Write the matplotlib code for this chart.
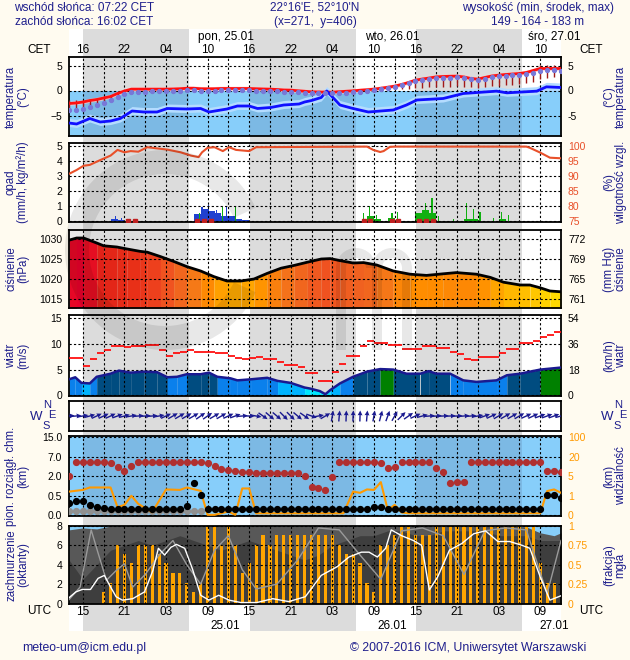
import numpy as np
import matplotlib
matplotlib.use('Agg')
from matplotlib import pyplot as plt
from matplotlib.colors import LinearSegmentedColormap
from matplotlib.patches import Wedge, Rectangle

plt.rcParams['font.family'] = ['Liberation Sans', 'DejaVu Sans']

W, H = 630, 660
BG = '#fffbf0'
NIGHT = '#dcdcdc'
TXT = '#1e1e8c'
T0, T1 = 13, 84                      # hours since 24.01 00 UTC

nights = [(15.03, 30.37), (39.05, 54.35), (63.07, 78.33)]
days = [(13, 15.03), (30.37, 39.05), (54.35, 63.07), (78.33, 84)]

hours = np.arange(13, 85)            # hourly time grid

# ---- temperature (deg C), hourly 13..84
temp = [-2.6, -2.5, -2.3, -2.0, -1.8, -1.5, -1.2, -0.6, -0.1, 0.27, 0.27, 0.27,
        0.27, 0.27, 0.27, 0.3, 0.35, 0.45, 0.45, 0.35, 0.33, 0.35, 0.4, 0.4,
        0.4, 0.4, 0.4, 0.35, 0.3, 0.27, 0.2, 0.1, 0.07, -0.05, -0.15, -0.27,
        -0.3, -0.33, -0.33, -0.25, -0.15, -0.07, 0.05, 0.15, 0.27, 0.45, 0.65, 0.87,
        1.2, 1.6, 2.07, 2.3, 2.5, 2.73, 2.8, 2.85, 2.87, 2.7, 2.4, 2.27,
        2.6, 2.9, 3.07, 3.2, 3.3, 3.4, 3.6, 4.0, 4.4, 4.4, 4.4, 4.4]
tbar_lo = [-3.9, -3.9, -3.7, -3.4, -3.0, -2.5, -2.0, -1.4, -0.7, -0.3, -0.3, -0.3,
           -0.2, -0.2, -0.2, -0.1, -0.1, 0.0, 0.0, -0.2, -0.2, -0.1, 0.0, 0.0,
           0.0, 0.0, 0.0, -0.1, -0.1, -0.2, -0.2, -0.3, -0.3, -0.4, -0.5, -0.6,
           -0.6, -0.6, -0.5, -0.6, -0.6, -0.4, -0.3, -0.2, 0.0, 0.1, 0.2, 0.3,
           0.3, 0.4, 0.5, 0.6, 0.7, 0.7, 0.8, 0.8, 0.9, 0.8, 0.7, 0.6,
           0.7, 0.9, 1.0, 1.1, 1.2, 1.3, 1.5, 1.7, 2.3, 2.6, 2.7, 2.7]
tbar_hi = [-1.9, -1.9, -1.8, -1.6, -1.4, -1.1, -0.8, -0.3, 0.2, 0.4, 0.4, 0.4,
           0.4, 0.4, 0.4, 0.4, 0.4, 0.5, 0.5, 0.4, 0.4, 0.4, 0.5, 0.5,
           0.5, 0.5, 0.5, 0.4, 0.4, 0.4, 0.3, 0.2, 0.2, 0.1, 0.0, -0.1,
           -0.2, -0.2, -0.2, -0.1, 0.0, 0.0, 0.1, 0.2, 0.3, 0.5, 0.7, 0.9,
           1.2, 1.6, 2.1, 2.3, 2.5, 2.7, 2.8, 2.9, 2.9, 2.7, 2.4, 2.3,
           2.6, 2.9, 3.1, 3.2, 3.3, 3.4, 3.6, 4.0, 5.1, 5.2, 5.2, 5.1]
tdots = [-3.8, -3.8, -3.6, -3.3, -2.9, -2.4, -1.9, -1.3, -0.6, -0.2, -0.2, -0.2,
         -0.1, -0.1, -0.1, 0.0, 0.0, 0.1, 0.1, -0.1, -0.1, 0.0, 0.1, 0.1,
         0.1, 0.1, 0.1, 0.0, 0.0, -0.1, -0.1, -0.2, -0.2, -0.3, -0.4, -0.5,
         -0.5, -0.5, -0.4, -0.5, -0.5, -0.3, -0.2, 0.0, 0.2, 0.4, 0.6, 0.8,
         1.1, 1.5, 1.9, 2.2, 2.4, 2.6, 2.6, 2.6, 2.7, 2.5, 2.3, 2.2,
         2.4, 2.7, 2.9, 3.0, 3.1, 3.2, 3.3, 3.5, 4.0, 4.2, 4.1, 4.0]
t_dew = [13, 14.1, 16, 17.5, 19, 20.4, 22.1, 23.8, 25.7, 27.2, 30, 32, 33.2, 35.8,
         37.3, 39, 40.2, 42.1, 44, 46.2, 47, 48, 49.4, 50.2, 52.1, 54, 56.2, 59.8,
         61.7, 63.2, 67, 69.9, 74.7, 76.2, 80.5, 81.9, 84]
dew = [-6.5, -6.7, -5.6, -6.3, -6.1, -5.6, -4.1, -4.3, -4.3, -3.6, -3.7, -3.6, -4.3, -3.7,
       -3.1, -3.1, -3.6, -3.4, -2.9, -2.7, -2.3, -2.0, -1.4, -0.1, -2.9, -3.6, -4.3, -3.9,
       -2.9, -1.9, -1.6, -0.6, -0.13, -0.47, -0.13, 0.73, 0.6]

# ---- precipitation (mm/h) and relative humidity (%)
t_rh = [13, 14.1, 15.1, 16, 17.5, 19, 20, 21, 21.9, 23, 24.3, 25.7, 27.2, 29.1, 30.6,
        31.7, 32.2, 33, 34, 35.2, 36.1, 37.1, 39, 40, 47.8, 56, 56.9, 57.9, 58.4,
        59.3, 60, 79, 79.5, 81, 82.4, 84]
rh = [90.7, 92, 93.4, 93.7, 95.3, 96.8, 98.7, 97.9, 98.3, 98.1, 99.6, 99.2, 98.8, 97.9, 96.8,
      96.3, 97.9, 99.4, 99.6, 98.3, 99.6, 98.7, 98.3, 99.6, 99.7, 99.8, 98.7, 98, 98.3,
      99.7, 99.8, 99.8, 99.4, 97.8, 96.1, 95.9]
pb_t = [19.5, 20.5, 31.5, 32.5, 33.5, 34.5, 35.5, 36.5, 37.5, 38.5]
pb_v = [0.1, 0.05, 0.45, 0.8, 0.65, 0.55, 0.35, 0.3, 0.1, 0.05]
pbs_t = [19.7, 20.6, 32.2, 33.1, 34.3, 35.7]
pbs_v = [0.3, 0.2, 0.9, 1.05, 0.75, 1.0]
pg_t = [31.5, 32.5, 33.5, 34.5, 35.5, 36.5, 37.5, 56.5, 57.5, 59.5, 63.5, 64.5, 65.5,
        70.5, 71.5, 75.5]
pg_v = [0.1, 0.15, 0.2, 0.25, 0.15, 0.2, 0.1, 0.3, 0.15, 0.2, 0.5, 0.75, 0.5,
        0.15, 0.15, 0.1]
pgs_t = [31.8, 35.2, 37.0, 55.5, 56.4, 57.4, 59.6, 60.4, 64.5, 65.4, 66.3, 68.5,
         70.4, 71.4, 72.3, 74.3, 75.4, 76.4]
pgs_v = [0.5, 0.95, 1.0, 0.5, 1.0, 0.4, 0.5, 0.6, 1.2, 1.5, 0.3, 0.1,
         1.2, 0.8, 0.6, 0.2, 0.6, 0.4]
pr_sq = [21.5, 22.5, 31.5, 32.5, 33.5, 55.5, 56.4, 59.6, 60.5, 63.5, 64.5, 65.5]

# ---- pressure (hPa)
t_p = [13, 14.1, 15.1, 17, 18, 19.9, 21.4, 23.3, 24.3, 26.2, 28.1, 30, 32, 33.9, 35.8,
       37.8, 39.7, 41.6, 43.6, 45.5, 47.4, 49.4, 50.7, 52.1, 54, 55.5, 57.4, 59.8, 62.2,
       64.6, 67, 68.9, 71.8, 73.8, 75.7, 78.1, 79.5, 81, 82.4, 84]
pres = [1029.7, 1030.25, 1030.25, 1029, 1028.3, 1028, 1027.5, 1026.9, 1026.7, 1025.6,
        1024.4, 1023.1, 1022, 1020.6, 1019.5, 1019.5, 1020, 1021.4, 1022.7, 1023.4,
        1024.2, 1025, 1025.1, 1024.6, 1024, 1024.1, 1023.5, 1022, 1021.2, 1020.9,
        1021.3, 1021.6, 1021.2, 1020.4, 1019.2, 1018.5, 1018.5, 1017.8, 1017, 1016.8]

# ---- wind (m/s)
t_ws = [13, 13.9, 14.8, 16, 17, 19, 20.2, 21.9, 23.8, 25.7, 27.2, 28.6, 30, 32, 33.2,
        34.4, 36.3, 37.3, 39.2, 41.6, 43.1, 45, 47, 47.8, 49.2, 50, 50.7, 52.1, 54, 56,
        57.9, 59.8, 61.7, 63.7, 64.9, 66, 68, 69.9, 71.8, 74.7, 76.2, 78.1, 81, 84]
ws = [3.1, 3.5, 2.4, 2.3, 3.6, 4.2, 4.8, 4.4, 4.6, 4.5, 3.5, 3.6, 4.1, 4.1, 4.4,
      3.6, 3.3, 2.9, 3.1, 3.4, 2.8, 2.4, 1.5, 1.3, 0.8, 0.2, 1.0, 2.3, 3.6, 4.6,
      5.1, 5.0, 4.2, 4.2, 4.7, 4.2, 4.2, 2.9, 2.6, 2.9, 3.9, 4.2, 5.0, 5.4]
# gusts, one value per hour interval [h, h+1], h = 13..83
gust = [7.3, 7.3, 5.7, 7.1, 8.2, 8.8, 9.6, 9.6, 9.5, 9.7, 9.7, 9.8, 9.8, 8.8, 7.6,
        8.2, 8.5, 8.8, 8.5, 8.5, 8.5, 8.2, 8.2, 7.7, 7.3, 7.0, 7.3, 7.5, 7.0, 7.0,
        6.5, 5.8, 5.8, 5.5, 4.4, 4.4, 2.8, 2.8, 4.6, 6.0, 7.7, 7.7, 9.6, 10.6, 10.1,
        10.1, 9.8, 9.8, 9.1, 9.1, 9.1, 9.6, 9.6, 9.3, 9.3, 8.5, 8.0, 7.0, 6.85, 7.4,
        7.4, 7.4, 8.2, 9.1, 9.1, 10.1, 10.1, 10.6, 11.3, 11.7, 12.3]
# arrow direction (deg, 0 = towards east), hourly 13..84
wdir = [5, 5, 10, 15, 25, 25, 25, 20, 15, 10, 5, 5, 5, 10, 25, 30, 30, 30, 30, 35,
        35, 30, 30, 25, 20, 5, 0, -10, -35, -40, -40, -45, -45, -40, -35, -20, 10, 30,
        80, 85, 88, 88, 88, 85, 80, 75, 70, 60, 45, 35, 25, 15, 5, 5, 3, 3,
        3, 5, 5, 10, 20, 25, 30, 30, 30, 30, 25, 25, 20, 20, 20, 15]

# ---- cloud extent (km), cloud base (km), visibility (km)
ctop = [2.1, 5.75, 5.75, 5.75, 5.75, 5.75, 5.3, 4.5, 3.35, 4.65, 5.75, 5.75, 5.75,
        5.75, 5.75, 5.75, 5.75, 5.75, 5.75, 5.6, 5.3, 4.7, 3.95, 3.6, 3.35, 3.2, 3.05,
        2.77, 2.77, 2.77, 2.77, 2.77, 2.77, 2.77, 2.2, 1.2, 1.1, 0.95, 1.97, 5.75, 5.75,
        5.75, 5.75, 5.75, 5.75, 5.3, 4.05, 4.5, 5.75, 5.75, 5.75, 5.75, 5.75, 4.05, 3.2,
        1.46, 1.56, 1.56, 5.75, 5.75, 5.75, 5.75, 5.75, 5.75, 5.75, 5.75, 5.75, 5.75,
        5.75, 3.35, 3.35, 3.2]
cbase = [0.31, 0.36, 0.37, 0.26, 0.2, 0.18, 0.15, 0.15, 0.15, 0.15, 0.15, 0.15, 0.15,
         0.15, 0.15, 0.15, 0.15, 0.24, 1.52, 0.55, 0.15, 0.15, 0.15, 0.15, 0.15, 0.15,
         0.15, 0.15, 0.15, 0.15, 0.15, 0.15, 0.15, 0.15, 0.15, 0.15, 0.15, 0.15, 0.15,
         0.15, 0.15, 0.15, 0.15, 0.15, 0.2, 0.22, 0.15, 0.15, 0.15, 0.15, 0.15, 0.15,
         0.15, 0.15, 0.15, 0.15, 0.15, 0.15, 0.15, 0.15, 0.15, 0.15, 0.15, 0.15, 0.15,
         0.15, 0.15, 0.15, 0.15, 0.53, 0.53, 0.45]
t_vis = [13, 15, 16, 19, 20, 21, 22, 23, 25, 27, 29, 30, 32, 33, 34, 36, 37, 38, 39, 40,
         52.6, 54, 55, 56, 57, 58, 59, 60, 61, 62, 81, 82, 83, 84]
vis = [1.85, 2.2, 2.7, 2.7, 0.41, 0.53, 1.0, 0.58, 0.15, 2.3, 2.2, 2.7, 2.0, 0.02,
       0.02, 0.19, 0.02, 2.5, 2.5, 0.1, 0.1, 1.85, 1.6, 2.3, 2.2, 3.8, 0.27, 0.53,
       0.14, 0.1, 0.1, 1.96, 2.3, 1.6]

# ---- cloudiness (octants) and fog (fraction)
t_cl = [13, 15, 17, 19, 21, 23, 25, 27, 29, 31, 33, 35, 37, 39, 41, 43, 45, 47, 49, 51,
        53, 55, 57, 59, 61, 63, 65, 67, 69, 71, 73, 75, 77, 79, 81, 83, 84]
cl_total = [7.6, 7.8, 7.7, 8, 8, 8, 8, 8, 8, 8, 8, 8, 8, 8, 8, 8, 8, 8, 8, 8,
            8, 8, 8, 8, 8, 8, 8, 8, 8, 8, 8, 8, 8, 7.9, 7.3, 7.0, 7.3]
cl_low = [4.5, 2.5, 4, 5.5, 6, 6.5, 6, 6.5, 7, 6.5, 6, 5.5, 6, 6.5, 6, 5.5, 5, 4.5, 5, 6,
          6.5, 7, 7, 7.5, 7.5, 7, 7, 7.5, 7.5, 7.5, 7.5, 7, 7, 7, 6.5, 6.5, 6.5]
t_wl = [13, 14, 14.9, 16.1, 17.2, 18.1, 19, 19.8, 20.7, 22.2, 23.9, 25.1, 25.9, 26.8,
        27.7, 28.5, 29.7, 30.8, 32, 33.2, 34.6, 36.1, 37.8, 40.1, 42.4, 44.7, 47.1,
        49.4, 51.7, 53.4, 55.2, 56.3, 57.5, 58.7, 59.5, 61, 62.7, 63.9, 65, 66.2, 67.9,
        69.7, 71.4, 73.1, 74.9, 76.6, 78.4, 79.5, 81, 82.4, 84]
wline = [0.6, 1.2, 1.45, 1.45, 2.6, 2.9, 1.7, 0.7, 0.35, 0.5, 1.2, 3.4, 5.7, 5.0, 5.8,
         6.1, 5.7, 3.6, 0.85, 0.35, 0.85, 0.35, 0.1, 0.1, 0.5, 0.2, 0.7, 2.9, 3.8, 4.8,
         5.3, 5.3, 4.8, 5.7, 7.6, 7.0, 6.5, 6.0, 1.4, 2.75, 5.5, 6.2, 7.2, 7.5, 6.4, 6.4,
         6.0, 5.7, 2.75, 0.35, 0.8]
t_gl = [13, 14.6, 16.2, 17.2, 18.4, 19.8, 21, 22.2, 24, 26, 28, 30, 32, 34, 36, 38, 40,
        43, 46, 49, 52, 55, 58, 61, 64, 67, 70, 73, 76, 79, 82, 84]
gline = [0.4, 1.7, 7.6, 5.2, 2.4, 3.4, 4.1, 1.7, 3.0, 5.0, 6.5, 4.0, 2.0, 5.5, 7.0, 3.5,
         1.5, 2.0, 4.5, 7.8, 7.6, 5.0, 2.5, 7.5, 7.8, 7.0, 3.0, 7.5, 7.8, 7.6, 1.0, 6.5]
fog_t = np.arange(18, 84)
fog = [0.15, 0.26, 0.76, 0.64, 0.52, 0.76, 0.76, 0.76, 0.64, 0.52, 0.39, 0.39, 0.26,
       0.15, 0.26, 1.0, 1.0, 0.76, 1.0, 0.76, 0.39, 0.52, 0.76, 0.89, 0.76, 0.89, 0.89,
       0.89, 0.89, 0.89, 0.89, 0.89, 0.89, 0.89, 0.76, 0.64, 0.64, 0.52, 0.26, 0.15,
       0.76, 0.76, 0.89, 1.0, 1.0, 0.89, 0.89, 0.89, 1.0, 1.0, 1.0, 1.0, 1.0, 1.0, 1.0,
       1.0, 1.0, 1.0, 1.0, 1.0, 1.0, 1.0, 1.0, 0.52, 0.26, 0.26]

xgrid = np.arange(15, 84, 3)
lab_t = np.arange(15, 84, 6)
cet_lab = ['16', '22', '04', '10'] * 3
utc_lab = ['15', '21', '03', '09'] * 3
day_t = [35.6, 59.6, 83]


def ax_px(fig, x0, y0, x1, y1, **kw):
    return fig.add_axes([x0 / W, 1 - y1 / H, (x1 - x0) / W, (y1 - y0) / H], **kw)


def panel(fig, y0, y1, ylim, yt, ytl=None):
    ax = ax_px(fig, 69, y0, 561, y1, facecolor='none')
    ax.set_xlim(T0, T1)
    ax.set_ylim(*ylim)
    ax.set_xticks(xgrid)
    ax.set_xticklabels([])
    ax.set_yticks(yt)
    if ytl is not None:
        ax.set_yticklabels(ytl)
    ax.tick_params(length=0, labelsize=7.5, pad=5)
    ax.grid(True, color='k', linestyle=(0, (2, 2)), linewidth=0.8)
    ax.set_axisbelow(False)
    for s in ax.spines.values():
        s.set_linewidth(1.3)
    return ax


def right_labels(ax, yt, labels, color='k'):
    a2 = ax.twinx()
    a2.set_ylim(ax.get_ylim())
    a2.set_yticks(yt)
    a2.set_yticklabels(labels, color=color)
    a2.tick_params(length=0, labelsize=7.5, pad=5)
    for s in a2.spines.values():
        s.set_visible(False)
    return a2


def side_label(fig, y0, y1, left, right):
    yc = 1 - (y0 + y1) / 2 / H
    fig.text(17 / W, yc, left, rotation=90, ha='center', va='center', ma='center',
             color=TXT, fontsize=8.3, linespacing=0.95)
    fig.text(615 / W, yc, right, rotation=90, ha='center', va='center', ma='center',
             color=TXT, fontsize=8.3, linespacing=0.95)


def day_night_fill(ax, y_lo, y_hi, c_day, c_night):
    for a, b in days:
        ax.fill_between([a, b], y_lo, y_hi, color=c_day, lw=0, zorder=0)
    for a, b in nights:
        ax.fill_between([a, b], y_lo, y_hi, color=c_night, lw=0, zorder=0)


fig = plt.figure(figsize=(W / 100, H / 100), dpi=100, facecolor=BG)

# day / night background column
bg = ax_px(fig, 69, 29, 561, 631)
bg.set_xlim(T0, T1)
bg.set_ylim(0, 1)
bg.axis('off')
for a, b in days:
    bg.axvspan(a, b, color='white', lw=0)
for a, b in nights:
    bg.axvspan(a, b, color=NIGHT, lw=0)

# header texts
fig.text(84 / W, 1 - 8 / H, 'wschód słońca: 07:22 CET', ha='center', va='center', color=TXT, fontsize=8.5)
fig.text(84 / W, 1 - 22 / H, 'zachód słońca: 16:02 CET', ha='center', va='center', color=TXT, fontsize=8.5)
fig.text(315 / W, 1 - 8 / H, "22°16'E, 52°10'N", ha='center', va='center', color=TXT, fontsize=8.5)
fig.text(315 / W, 1 - 22 / H, '(x=271,  y=406)', ha='center', va='center', color=TXT, fontsize=8.5)
fig.text(538 / W, 1 - 8 / H, 'wysokość (min, środek, max)', ha='center', va='center', color=TXT, fontsize=8.5)
fig.text(538 / W, 1 - 22 / H, '149 - 164 - 183 m', ha='center', va='center', color=TXT, fontsize=8.5)

hdr = ax_px(fig, 69, 29, 561, 57, facecolor='none')
hdr.set_xlim(T0, T1)
hdr.set_ylim(0, 1)
hdr.axis('off')
for t, s in zip(lab_t, cet_lab):
    hdr.text(t, 0.25, s, ha='center', va='center', fontsize=8.5)
for t, s in zip(day_t, ['pon, 25.01', 'wto, 26.01', 'śro, 27.01']):
    hdr.text(t, 0.72, s, ha='center', va='center', fontsize=8.5)
fig.text(39 / W, 1 - 50 / H, 'CET', ha='center', va='center', fontsize=8.5)
fig.text(591 / W, 1 - 50 / H, 'CET', ha='center', va='center', fontsize=8.5)

# ---- temperature panel
ax = panel(fig, 57, 136, (-9.1, 6.7), [-5, 0, 5])
day_night_fill(ax, -9.1, 0, '#87cefa', '#7cb9e4')
ax.fill_between(t_dew, np.array(dew) - 0.7, np.array(dew) + 0.9, color='#b4dcff', lw=0, zorder=1)
ax.fill_between(hours, np.array(temp) - 0.35, np.array(temp) + 0.45, color='#ffc4c4', alpha=0.8, lw=0, zorder=1)
ax.vlines(hours, tbar_lo, tbar_hi, color='#a01818', lw=1, zorder=3)
ax.plot(hours, temp, color='#ff1010', lw=2, zorder=4)
ax.plot(hours, tdots, 'o', color='#7878d8', ms=2.8, zorder=5)
ax.plot(t_dew, dew, color='#1010ff', lw=2, zorder=4)
right_labels(ax, [-5, 0, 5], ['-5', '0', '5'])
side_label(fig, 57, 136, 'temperatura\n(°C)', '(°C)\ntemperatura')

# ---- precipitation panel
ax = panel(fig, 143, 222, (-0.07, 5.2), [0, 1, 2, 3, 4, 5])
rh_pos = (np.array(rh) - 75) / 5
ax.plot(t_rh, rh_pos, color='#e8502a', lw=1.5, zorder=4)
ax.bar(pg_t, pg_v, width=1.0, color='#10b010', lw=0, zorder=2)
ax.bar(pb_t, pb_v, width=1.0, color='#2040d0', lw=0, zorder=2)
ax.bar(pbs_t, pbs_v, width=0.18, color='#2040d0', lw=0, zorder=2)
ax.bar(pgs_t, pgs_v, width=0.18, color='#10b010', lw=0, zorder=2)
ax.plot(pr_sq, [0.02] * len(pr_sq), 's', color='#c02020', ms=2.5, zorder=3)
right_labels(ax, [0, 1, 2, 3, 4, 5], ['75', '80', '85', '90', '95', '100'], color='#e8502a')
side_label(fig, 143, 222, 'opad\n(mm/h, kg/m²/h)', '(%)\nwilgotność wzgl.')

# ---- pressure panel
ax = panel(fig, 230, 308, (1012.75, 1032.25), [1015, 1020, 1025, 1030])
pcm = LinearSegmentedColormap.from_list('pres', ['#ffe000', '#ffc800', '#ffa800', '#ff8c00',
                                                 '#f57818', '#f06020', '#f04820', '#e83018',
                                                 '#e02018', '#e8002a'])
for i in range(len(t_p) - 1):
    pm = (pres[i] + pres[i + 1]) / 2
    c = pcm(np.clip((pm - 1016.5) / (1030.3 - 1016.5), 0, 1))
    ax.fill_between(t_p[i:i + 2], 1012.75, pres[i:i + 2], color=c, lw=0, zorder=1)
ax.plot(t_p, pres, color='k', lw=2, zorder=4)
right_labels(ax, [1015, 1020, 1025, 1030], ['761', '765', '769', '772'])
side_label(fig, 230, 308, 'ciśnienie\n(hPa)', '(mm Hg)\nciśnienie')

# ---- wind panel
ax = panel(fig, 315, 396, (-0.15, 15.65), [0, 5, 10, 15])


def wcol(v):
    if v < 1.5:
        return '#00e8ff'
    if v < 2.7:
        return '#00b4ff'
    if v < 3.9:
        return '#0a80ec'
    if v < 5.0:
        return '#004c80'
    return '#008000'


for i in range(len(t_ws) - 1):
    c = wcol((ws[i] + ws[i + 1]) / 2)
    ax.fill_between(t_ws[i:i + 2], 0, ws[i:i + 2], color=c, lw=0, zorder=1)
ax.plot(t_ws, ws, color='#1a1a90', lw=1.8, zorder=4)
ax.hlines(gust, hours[:-1], hours[1:], color='#ff1010', lw=1.3, zorder=4)
right_labels(ax, [0, 5, 10, 15], ['0', '18', '36', '54'])
side_label(fig, 315, 396, 'wiatr\n(m/s)', '(km/h)\nwiatr')

# ---- wind direction panel
ax = panel(fig, 401, 431, (0, 1), [])
ax.grid(True, axis='x', color='k', linestyle=(0, (2, 2)), linewidth=0.8)
ang = np.radians(wdir)
ax.quiver(hours, np.full(len(hours), 0.5), np.cos(ang) * 11, np.sin(ang) * 11,
          angles='uv', pivot='middle', scale_units='dots', scale=1, units='dots',
          width=1.4, headwidth=3.5, headlength=3.5, headaxislength=3.2,
          color='#1a1a90', zorder=4)
for x0 in (36, 607):
    fig.text(x0 / W, 1 - 417 / H, 'W', ha='center', va='center', color=TXT, fontsize=9.5)
    fig.text((x0 + 11) / W, 1 - 405 / H, 'N', ha='center', va='center', color=TXT, fontsize=8)
    fig.text((x0 + 16) / W, 1 - 415 / H, 'E', ha='center', va='center', color=TXT, fontsize=8)
    fig.text((x0 + 10) / W, 1 - 426 / H, 'S', ha='center', va='center', color=TXT, fontsize=8)

# ---- cloud extent / visibility panel
ax = panel(fig, 436, 516, (-0.04, 4.07), [0, 1, 2, 3, 4], ['0.0', '0.5', '2.0', '7.0', '15.0'])
day_night_fill(ax, -0.04, 4.07, '#87cefa', '#7cb9e4')
kmk = [0, 0.5, 2, 7, 15]
ax.plot(hours, np.interp(ctop, kmk, [0, 1, 2, 3, 4]), 'o', color='#b03030', ms=4.2, zorder=4)
ax.plot(hours[:20], np.interp([0.12] * 20, kmk, [0, 1, 2, 3, 4]), 'o', color='#909090', ms=4.2, zorder=4)
ax.plot(hours, np.interp(cbase, kmk, [0, 1, 2, 3, 4]), 'o', color='k', ms=4.2, zorder=5)
ax.plot(t_vis, np.interp(vis, [0, 1, 5, 20, 100], [0, 1, 2, 3, 4]), color='#ff9900', lw=1.5, zorder=4)
right_labels(ax, [0, 1, 2, 3, 4], ['0', '1', '5', '20', '100'], color='#ff9900')
side_label(fig, 436, 516, 'pion. rozciągł. chm.\n(km)', '(km)\nwidzialność')

# ---- cloudiness panel
ax = panel(fig, 526, 604, (-0.05, 8.0), [0, 2, 4, 6, 8])
ax.set_facecolor('#87cefa')
ax.fill_between(t_cl, 0, cl_total, color='#585858', lw=0, zorder=1)
ax.fill_between(t_cl, 0, cl_low, color='#3e3e3e', lw=0, zorder=1)
ax.plot(t_gl, gline, color='#9a9a9a', lw=1, zorder=3)
ax.plot(t_wl, wline, color='white', lw=1, zorder=3)
ax.bar(fog_t, np.array(fog) * 8, width=0.45, color='#ffa500', lw=0, zorder=2)
right_labels(ax, [0, 2, 4, 6, 8], ['0', '0.25', '0.5', '0.75', '1'], color='#ff9900')
side_label(fig, 526, 604, 'zachmurzenie\n(oktanty)', '(frakcja)\nmgła')

# bottom labels
bot = ax_px(fig, 69, 604, 561, 631, facecolor='none')
bot.set_xlim(T0, T1)
bot.set_ylim(0, 1)
bot.axis('off')
for t, s in zip(lab_t, utc_lab):
    bot.text(t, 0.7, s, ha='center', va='center', fontsize=8.5)
for t, s in zip(day_t, ['25.01', '26.01', '27.01']):
    bot.text(t, 0.2, s, ha='center', va='center', fontsize=8.5)
fig.text(39 / W, 1 - 611 / H, 'UTC', ha='center', va='center', fontsize=8.5)
fig.text(591 / W, 1 - 611 / H, 'UTC', ha='center', va='center', fontsize=8.5)

fig.text(84 / W, 1 - 648 / H, 'meteo-um@icm.edu.pl', ha='center', va='center', color=TXT, fontsize=8.8)
fig.text(468 / W, 1 - 648 / H, '© 2007-2016 ICM, Uniwersytet Warszawski', ha='center', va='center',
         color=TXT, fontsize=8.8)

# faint ICM watermark ("C" ring and "m" arches), in inches from the figure's lower left
wm = dict(facecolor='k', alpha=0.09, lw=0, transform=fig.dpi_scale_trans, zorder=1)
fig.add_artist(Wedge((1.65, 4.10), 1.00, 25, 335, width=0.24, **wm))
for cx in (3.56, 3.92):
    fig.add_artist(Wedge((cx, 3.92), 0.20, 0, 180, width=0.10, **wm))
for lx in (3.36, 3.72, 4.02):
    fig.add_artist(Rectangle((lx, 3.10), 0.10, 0.82, **wm))

fig.savefig('out.png', dpi=100, facecolor=BG)
